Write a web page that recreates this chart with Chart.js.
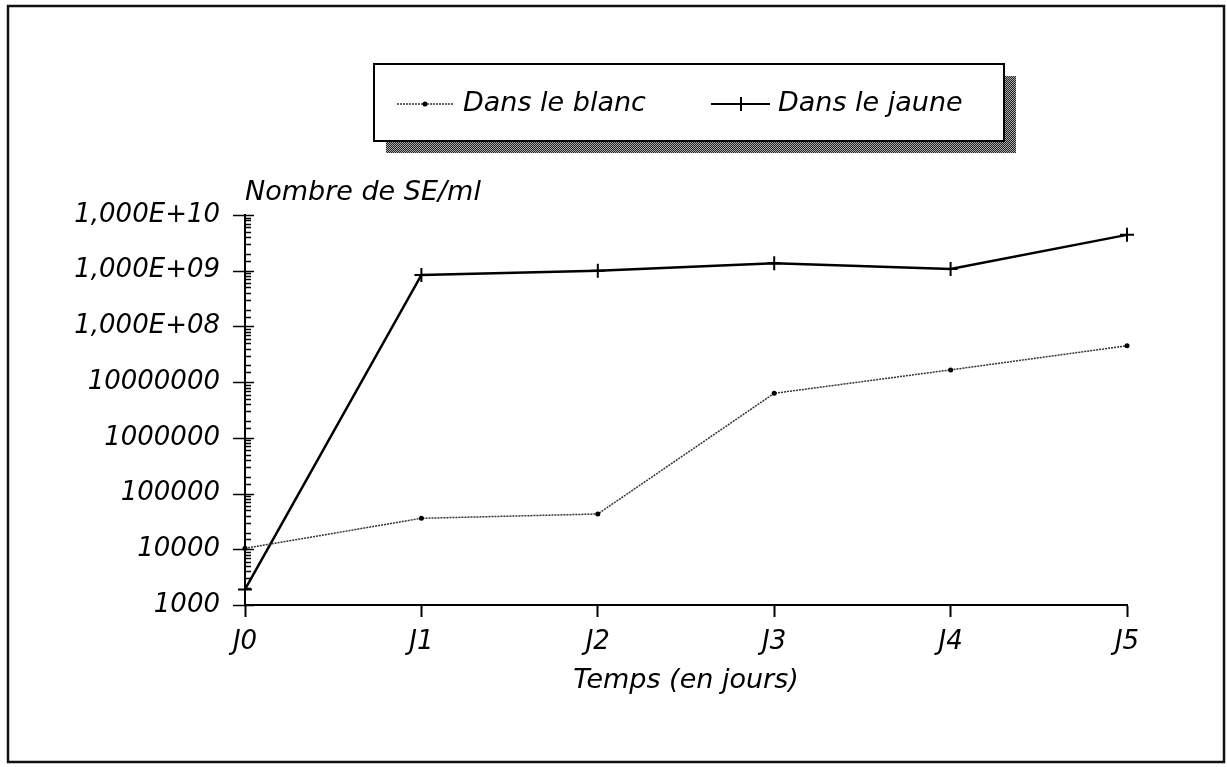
<!DOCTYPE html>
<html><head><meta charset="utf-8">
<script src="https://cdn.jsdelivr.net/npm/chart.js@4.4.1/dist/chart.umd.min.js"></script>
<style>html,body{margin:0;padding:0;background:#fff;} canvas{display:block;}</style>
</head><body>
<canvas id="c" width="1227" height="767"></canvas>
<script>
const categories = ['J0','J1','J2','J3','J4','J5'];
const blancValues = [10400, 36000, 43000, 6300000, 16600000, 45000000];
const jauneValues = [1900, 840000000, 1000000000, 1360000000, 1070000000, 4400000000];
const yTickLabels = ['1000','10000','100000','1000000','10000000','1,000E+08','1,000E+09','1,000E+10'];
const seriesNames = ['Dans le blanc','Dans le jaune'];
const yTitle = 'Nombre de SE/ml';
const xTitle = 'Temps (en jours)';
const FONT = '"DejaVu Sans", "Liberation Sans", sans-serif';

const framePlugin = {
  id: 'frame',
  beforeDraw(chart) {
    const ctx = chart.ctx;
    ctx.save();
    ctx.fillStyle = '#fff';
    ctx.fillRect(0, 0, chart.width, chart.height);
    ctx.strokeStyle = '#111';
    ctx.lineWidth = 2.5;
    ctx.strokeRect(8, 6, 1216, 756);
    ctx.restore();
  },
  afterDraw(chart) {
    const ctx = chart.ctx;
    const y = chart.scales.y;
    const x0 = chart.chartArea.left;
    ctx.save();
    ctx.strokeStyle = '#000';
    ctx.lineWidth = 1.5;
    y.ticks.forEach(t => {
      const p = Math.round(y.getPixelForValue(t.value)) + 0.5;
      const e = Math.log10(t.value);
      const major = Math.abs(e - Math.round(e)) < 1e-9;
      ctx.beginPath();
      if (major) { ctx.moveTo(x0 - 12, p); ctx.lineTo(x0 + 9, p); }
      else { ctx.moveTo(x0, p); ctx.lineTo(x0 + 6, p); }
      ctx.stroke();
    });
    // y title
    ctx.fillStyle = '#000';
    ctx.font = 'italic 27px ' + FONT;
    ctx.textAlign = 'left';
    ctx.textBaseline = 'alphabetic';
    ctx.fillText(yTitle, x0, 200);

    // legend box
    const bx = 374, by = 64, bw = 630, bh = 77, sh = 12;
    const pc = document.createElement('canvas');
    pc.width = 2; pc.height = 2;
    const pctx = pc.getContext('2d');
    pctx.fillStyle = '#222'; pctx.fillRect(0, 0, 2, 2);
    pctx.fillStyle = '#aaa'; pctx.fillRect(0, 0, 1, 1); pctx.fillRect(1, 1, 1, 1);
    ctx.fillStyle = ctx.createPattern(pc, 'repeat');
    ctx.fillRect(bx + sh, by + sh, bw, bh);
    ctx.fillStyle = '#fff';
    ctx.fillRect(bx, by, bw, bh);
    ctx.strokeStyle = '#000';
    ctx.lineWidth = 2;
    ctx.strokeRect(bx, by, bw, bh);

    const ly = 104;
    const ds = chart.data.datasets;
    // sample 1 (blanc)
    ctx.save();
    ctx.strokeStyle = ds[0].borderColor;
    ctx.lineWidth = 1.5;
    ctx.setLineDash([2, 1]);
    ctx.beginPath(); ctx.moveTo(397, ly); ctx.lineTo(454, ly); ctx.stroke();
    ctx.restore();
    ctx.fillStyle = '#000';
    ctx.beginPath(); ctx.arc(425, ly, 2.5, 0, Math.PI * 2); ctx.fill();
    // sample 2 (jaune)
    ctx.strokeStyle = '#000';
    ctx.lineWidth = 2;
    ctx.beginPath(); ctx.moveTo(711, ly); ctx.lineTo(770, ly); ctx.stroke();
    ctx.beginPath(); ctx.moveTo(741, ly - 7); ctx.lineTo(741, ly + 7); ctx.stroke();

    ctx.fillStyle = '#000';
    ctx.font = 'italic 27px ' + FONT;
    ctx.textBaseline = 'middle';
    ctx.fillText(ds[0].label, 463, ly);
    ctx.fillText(ds[1].label, 778, ly);
    ctx.restore();
  }
};

new Chart(document.getElementById('c'), {
  type: 'line',
  data: {
    labels: categories,
    datasets: [
      {
        label: seriesNames[0],
        data: blancValues,
        borderColor: '#333',
        borderWidth: 1.5,
        borderDash: [2, 1],
        pointStyle: 'circle',
        pointRadius: 2.5,
        pointBackgroundColor: '#000',
        pointBorderWidth: 0,
        tension: 0,
        clip: false
      },
      {
        label: seriesNames[1],
        data: jauneValues,
        borderColor: '#000',
        borderWidth: 2.5,
        pointStyle: 'cross',
        pointRadius: 7,
        pointBorderWidth: 2,
        pointBorderColor: '#000',
        tension: 0,
        clip: false
      }
    ]
  },
  options: {
    responsive: false,
    animation: false,
    devicePixelRatio: 1,
    layout: { padding: { left: 0, top: 215, right: 100, bottom: 0 } },
    plugins: { legend: { display: false }, tooltip: { enabled: false }, title: { display: false } },
    scales: {
      x: {
        type: 'category',
        offset: false,
        afterFit(s) { s.height = 162; },
        grid: { drawOnChartArea: false, drawTicks: true, tickLength: 12, tickColor: '#000', tickWidth: 2 },
        border: { display: true, color: '#000', width: 2 },
        ticks: { color: '#000', font: { family: FONT, size: 26, style: 'italic' }, padding: 10, maxRotation: 0 },
        title: { display: true, text: xTitle, color: '#000', font: { family: FONT, size: 27, style: 'italic' }, padding: { top: 0, bottom: 70 } }
      },
      y: {
        type: 'logarithmic',
        min: 1000,
        max: 1e10,
        afterFit(s) { s.width = 245; },
        grid: { drawOnChartArea: false, drawTicks: false },
        border: { display: true, color: '#000', width: 2 },
        ticks: {
          autoSkip: false,
          color: '#000',
          padding: 25,
          font: { family: FONT, size: 26, style: 'italic' },
          callback(value) {
            const e = Math.log10(value);
            if (Math.abs(e - Math.round(e)) < 1e-9) return yTickLabels[Math.round(e) - 3];
            return '';
          }
        }
      }
    }
  },
  plugins: [framePlugin]
});
</script>
</body></html>
